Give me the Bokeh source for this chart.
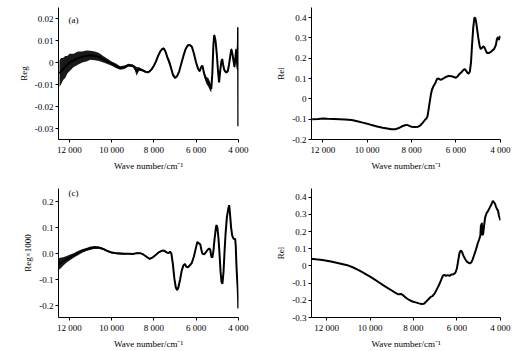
import numpy as np
from bokeh.plotting import figure
from bokeh.layouts import gridplot
from bokeh.models import Range1d, FixedTicker, Label
from bokeh.embed import file_html
from bokeh.resources import INLINE

# ---------------- data ----------------
X_TICKS = [12000, 10000, 8000, 6000, 4000]
X_LABELS = ["12 000", "10 000", "8 000", "6 000", "4 000"]
X_TITLE = "Wave number/cm\u207b\u00b9"

# (a) Reg
A_WN = [12470, 12400, 12300, 12200, 12100, 12000, 11800, 11600, 11400, 11200, 11000, 10800, 10600,
        10400, 10200, 10000, 9800, 9600, 9400, 9200, 9000, 8900, 8820, 8700, 8550, 8400, 8300, 8200,
        8100, 8000, 7900, 7800, 7700, 7600, 7530, 7450, 7350, 7280, 7200, 7100, 7000, 6900, 6800,
        6700, 6600, 6500, 6400, 6300, 6200, 6100, 6000, 5900, 5830, 5760, 5700, 5620, 5520, 5420,
        5330, 5280, 5230, 5180, 5140, 5080, 5020, 4960, 4910, 4860, 4800, 4760, 4720, 4660, 4580,
        4500, 4440, 4380, 4330, 4280, 4230, 4180, 4140, 4100, 4060, 4030, 4010, 4000]
A_VAL = [-0.005, -0.004, -0.003, -0.002, -0.001, 0.000, 0.001, 0.002, 0.0025, 0.003, 0.0033, 0.003,
         0.0025, 0.0015, 0.0005, -0.0005, -0.0015, -0.0025, -0.0022, -0.0012, -0.0015, -0.0025,
         -0.004, -0.003, -0.0035, -0.0042, -0.0045, -0.004, -0.003, -0.0015, 0.0005, 0.003, 0.005,
         0.0062, 0.0064, 0.005, 0.002, 0.0005, -0.002, -0.0055, -0.007, -0.0062, -0.004, -0.0005,
         0.003, 0.006, 0.0077, 0.008, 0.0072, 0.004, 0.000, -0.003, -0.004, -0.002, -0.0015, -0.005,
         -0.008, -0.009, -0.011, -0.012, -0.005, 0.008, 0.0125, 0.010, 0.004, -0.004, -0.009, -0.004,
         0.0005, 0.0015, -0.001, -0.0035, -0.0045, -0.004, -0.001, 0.003, 0.006, 0.004, 0.001,
         -0.002, 0.002, 0.006, 0.000, -0.003, 0.016, -0.029]
A_SPREAD = [0.006, 0.006, 0.005, 0.005, 0.004, 0.004, 0.003, 0.003, 0.0025, 0.0025, 0.002, 0.002,
            0.0018, 0.0015, 0.0012, 0.001, 0.001, 0.0008, 0.0008, 0.0006, 0.0006, 0.001, 0.002,
            0.0008, 0.0005, 0.0004, 0.0004, 0.0004, 0.0004, 0.0004, 0.0004, 0.0004, 0.0004, 0.0004,
            0.0004, 0.0005, 0.001, 0.0012, 0.0008, 0.0005, 0.0004, 0.0004, 0.0004, 0.0004, 0.0004,
            0.0004, 0.0004, 0.0004, 0.0004, 0.0004, 0.0004, 0.0004, 0.0004, 0.0005, 0.0005, 0.001,
            0.0015, 0.002, 0.002, 0.0015, 0.001, 0.0006, 0.0005, 0.0005, 0.0005, 0.0005, 0.0005,
            0.0005, 0.0005, 0.0005, 0.0005, 0.0005, 0.0005, 0.0005, 0.0006, 0.0006, 0.0008, 0.001,
            0.001, 0.001, 0.0012, 0.0015, 0.002, 0.002, 0.0, 0.0]
A_YTICKS = [-0.03, -0.02, -0.01, 0.0, 0.01, 0.02]
A_YLABELS = ["-0.03", "-0.02", "-0.01", "0", "0.01", "0.02"]

# (b) Rel
B_WN = [12480, 12200, 12000, 11800, 11500, 11000, 10700, 10450, 10200, 10000, 9800, 9550, 9300,
        9100, 8900, 8750, 8600, 8450, 8300, 8200, 8100, 8000, 7850, 7700, 7600, 7500, 7400, 7330,
        7280, 7230, 7180, 7130, 7080, 7000, 6920, 6850, 6780, 6700, 6620, 6540, 6450, 6330, 6200,
        6100, 6000, 5930, 5850, 5760, 5680, 5610, 5550, 5490, 5430, 5370, 5320, 5270, 5220, 5170,
        5130, 5090, 5040, 4990, 4930, 4880, 4830, 4770, 4720, 4660, 4600, 4520, 4440, 4360, 4280,
        4200, 4150, 4100, 4060, 4030, 4000]
B_VAL = [-0.100, -0.099, -0.097, -0.098, -0.099, -0.101, -0.104, -0.110, -0.117, -0.122, -0.129,
         -0.136, -0.142, -0.146, -0.150, -0.150, -0.145, -0.136, -0.130, -0.128, -0.133, -0.137,
         -0.139, -0.137, -0.130, -0.118, -0.104, -0.097, -0.085, -0.050, -0.015, 0.020, 0.045,
         0.065, 0.080, 0.098, 0.100, 0.094, 0.097, 0.102, 0.108, 0.113, 0.112, 0.108, 0.104, 0.110,
         0.122, 0.130, 0.140, 0.147, 0.140, 0.130, 0.124, 0.135, 0.180, 0.270, 0.350, 0.398, 0.400,
         0.380, 0.340, 0.300, 0.260, 0.245, 0.250, 0.258, 0.255, 0.240, 0.226, 0.226, 0.230, 0.238,
         0.245, 0.265, 0.295, 0.305, 0.290, 0.300, 0.310]
B_YTICKS = [-0.2, -0.1, 0.0, 0.1, 0.2, 0.3, 0.4]
B_YLABELS = ["-0.2", "-0.1", "0", "0.1", "0.2", "0.3", "0.4"]

# (c) Reg x 1000
C_WN = [12500, 12400, 12300, 12200, 12100, 12000, 11800, 11600, 11400, 11200, 11000, 10800, 10600,
        10400, 10200, 10000, 9800, 9500, 9200, 9000, 8800, 8650, 8500, 8350, 8200, 8050, 7900, 7750,
        7600, 7500, 7400, 7300, 7230, 7170, 7100, 7030, 6960, 6900, 6840, 6760, 6680, 6600, 6530,
        6460, 6380, 6300, 6200, 6100, 6000, 5940, 5870, 5800, 5750, 5700, 5620, 5540, 5450, 5380,
        5330, 5280, 5230, 5180, 5120, 5060, 5030, 4990, 4940, 4890, 4840, 4790, 4750, 4700, 4650,
        4600, 4540, 4480, 4430, 4390, 4340, 4290, 4240, 4190, 4150, 4120, 4090, 4060, 4030, 4010,
        4000]
C_VAL = [-0.040, -0.035, -0.030, -0.025, -0.020, -0.015, -0.007, 0.002, 0.010, 0.016, 0.021, 0.024,
         0.023, 0.018, 0.010, 0.004, 0.002, 0.000, 0.000, -0.001, 0.002, 0.002, -0.003, -0.012,
         -0.020, -0.014, -0.004, 0.006, 0.012, 0.011, 0.005, 0.002, 0.008, 0.000, -0.040, -0.095,
         -0.130, -0.140, -0.130, -0.100, -0.065, -0.045, -0.040, -0.050, -0.052, -0.045, -0.035,
         -0.010, 0.025, 0.045, 0.040, 0.035, 0.015, 0.000, -0.003, 0.005, 0.015, 0.020, 0.015,
         -0.010, -0.015, 0.010, 0.060, 0.100, 0.110, 0.100, 0.060, 0.000, -0.070, -0.110, -0.115,
         -0.070, 0.010, 0.080, 0.140, 0.170, 0.186, 0.150, 0.100, 0.070, 0.060, 0.055, 0.058, 0.030,
         -0.040, -0.090, -0.130, -0.170, -0.210]
C_SPREAD = [0.022, 0.020, 0.016, 0.014, 0.012, 0.011, 0.009, 0.008, 0.007, 0.006, 0.006, 0.005,
            0.004, 0.004, 0.003, 0.003, 0.003, 0.003, 0.002, 0.002, 0.002, 0.002, 0.002, 0.002,
            0.002, 0.002, 0.002, 0.002, 0.002, 0.002, 0.002, 0.002, 0.002, 0.002, 0.002, 0.002,
            0.002, 0.002, 0.002, 0.002, 0.002, 0.002, 0.002, 0.002, 0.002, 0.002, 0.002, 0.002,
            0.002, 0.002, 0.002, 0.002, 0.002, 0.002, 0.002, 0.002, 0.002, 0.002, 0.002, 0.002,
            0.002, 0.002, 0.002, 0.002, 0.002, 0.002, 0.002, 0.002, 0.002, 0.002, 0.002, 0.002,
            0.002, 0.002, 0.002, 0.002, 0.002, 0.002, 0.002, 0.002, 0.002, 0.002, 0.002, 0.002,
            0.002, 0.002, 0.002, 0.002, 0.002]
C_YTICKS = [-0.2, -0.1, 0.0, 0.1, 0.2]
C_YLABELS = ["-0.2", "-0.1", "0.0", "0.1", "0.2"]

# (d) Rel
D_WN = [12750, 12500, 12200, 12000, 11800, 11600, 11400, 11200, 11000, 10800, 10600, 10400, 10200,
        10000, 9800, 9600, 9400, 9200, 9000, 8850, 8700, 8580, 8480, 8350, 8200, 8050, 7900, 7750,
        7620, 7520, 7420, 7320, 7220, 7120, 7020, 6920, 6820, 6720, 6650, 6580, 6500, 6420, 6340,
        6250, 6150, 6070, 6000, 5940, 5880, 5820, 5760, 5700, 5620, 5540, 5460, 5400, 5340, 5280,
        5200, 5120, 5040, 4970, 4920, 4890, 4870, 4850, 4830, 4790, 4750, 4700, 4640, 4560, 4480,
        4400, 4340, 4290, 4240, 4200, 4150, 4100, 4060, 4030, 4000]
D_VAL = [0.042, 0.038, 0.034, 0.030, 0.025, 0.020, 0.014, 0.008, 0.002, -0.008, -0.020, -0.033,
         -0.048, -0.062, -0.078, -0.095, -0.112, -0.128, -0.143, -0.155, -0.165, -0.163, -0.170,
         -0.185, -0.198, -0.207, -0.212, -0.218, -0.222, -0.220, -0.208, -0.195, -0.182, -0.175,
         -0.160, -0.135, -0.110, -0.080, -0.058, -0.052, -0.058, -0.054, -0.058, -0.050, -0.048,
         -0.040, -0.015, 0.030, 0.075, 0.090, 0.080, 0.060, 0.040, 0.025, 0.018, 0.015, 0.020,
         0.035, 0.065, 0.095, 0.130, 0.155, 0.175, 0.240, 0.195, 0.250, 0.180, 0.185, 0.230, 0.280,
         0.305, 0.320, 0.340, 0.360, 0.378, 0.370, 0.360, 0.345, 0.330, 0.320, 0.290, 0.280, 0.265]
D_YTICKS = [-0.3, -0.2, -0.1, 0.0, 0.1, 0.2, 0.3, 0.4]
D_YLABELS = ["-0.3", "-0.2", "-0.1", "0", "0.1", "0.2", "0.3", "0.4"]

FONT = "Liberation Serif"


def make_panel(width, height, borders, xr, yr, yticks, ylabels, ytitle):
    left, right, top, bottom = borders
    p = figure(width=width, height=height, output_backend="svg", toolbar_location=None,
               x_range=Range1d(*xr), y_range=Range1d(*yr),
               min_border_left=left, min_border_right=right,
               min_border_top=top, min_border_bottom=bottom)
    p.grid.visible = False
    p.outline_line_color = None
    p.background_fill_color = "white"
    p.border_fill_color = "white"
    for ax in (p.xaxis[0], p.yaxis[0]):
        ax.axis_line_color = "black"
        ax.major_tick_line_color = "black"
        ax.minor_tick_line_color = None
        ax.major_tick_in = 0
        ax.major_tick_out = 3
        ax.major_label_text_font = FONT
        ax.major_label_text_font_size = "9px"
        ax.major_label_text_color = "black"
        ax.axis_label_text_font = FONT
        ax.axis_label_text_font_size = "9px"
        ax.axis_label_text_font_style = "normal"
        ax.axis_label_text_color = "black"
        ax.major_label_standoff = 2
        ax.axis_label_standoff = 3
    p.xaxis.ticker = FixedTicker(ticks=X_TICKS)
    p.xaxis.major_label_overrides = {t: l for t, l in zip(X_TICKS, X_LABELS)}
    p.xaxis.axis_label = X_TITLE
    p.yaxis.ticker = FixedTicker(ticks=yticks)
    p.yaxis.major_label_overrides = {t: l for t, l in zip(yticks, ylabels)}
    p.yaxis.axis_label = ytitle
    return p


def draw(p, wn, val, spread=None):
    wn = np.asarray(wn, float)
    val = np.asarray(val, float)
    if spread is not None:
        s = np.asarray(spread, float)
        p.varea(x=wn, y1=val - s, y2=val + s, fill_color="black", fill_alpha=0.9)
    p.line(wn, val, line_color="black", line_width=2)


pa = make_panel(260, 175, (58, 22, 7, 36), (12520, 3990), (-0.035, 0.025), A_YTICKS, A_YLABELS, "Reg")
draw(pa, A_WN, A_VAL, A_SPREAD)
pa.add_layout(Label(x=11810, y=0.0195, text="(a)", text_font=FONT, text_font_size="9px",
                    text_align="center", text_baseline="middle", text_color="black"))

pb = make_panel(261, 175, (51, 21, 1, 36), (12510, 3990), (-0.2, 0.45), B_YTICKS, B_YLABELS, "Rel")
draw(pb, B_WN, B_VAL)

pc = make_panel(260, 176, (58, 22, 13, 33), (12520, 3990), (-0.245, 0.25), C_YTICKS, C_YLABELS, "Reg\u00d71000")
draw(pc, C_WN, C_VAL, C_SPREAD)
pc.add_layout(Label(x=11810, y=0.231, text="(c)", text_font=FONT, text_font_size="9px",
                    text_align="center", text_baseline="middle", text_color="black"))

pd_ = make_panel(261, 176, (51, 20, 7, 31), (12700, 3990), (-0.3, 0.45), D_YTICKS, D_YLABELS, "Rel")
draw(pd_, D_WN, D_VAL)

grid = gridplot([[pa, pb], [pc, pd_]], toolbar_location=None)

open("out.html", "w").write(file_html(grid, INLINE))
